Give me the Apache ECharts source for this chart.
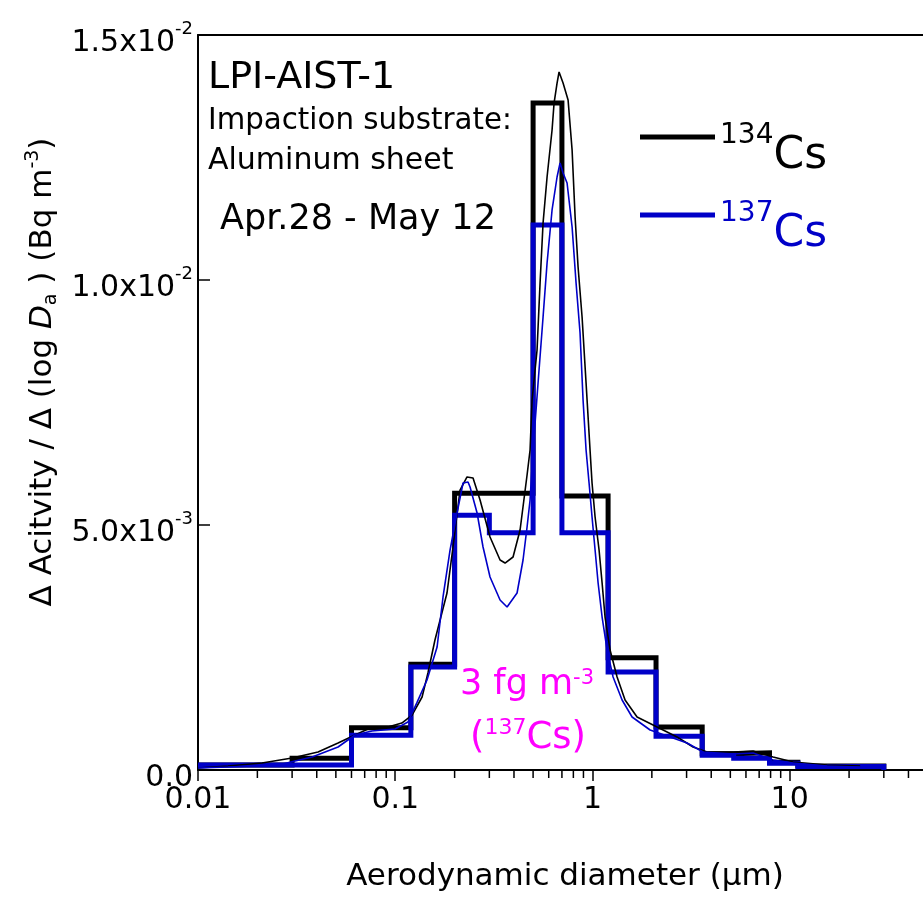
<!DOCTYPE html>
<html><head><meta charset="utf-8">
<script src="https://cdn.jsdelivr.net/npm/echarts@6/dist/echarts.min.js"></script>
<style>html,body{margin:0;padding:0;background:#fff}#c{width:923px;height:897px}</style>
</head><body><div id="c"></div>
<script>
// ---- data ----
const binEdges = [0.01, 0.03, 0.06, 0.12, 0.2, 0.3, 0.5, 0.7, 1.2, 2.1, 3.6, 5.2, 7.9, 11, 30];
const cs134Bins = [1.0e-4, 2.4e-4, 8.6e-4, 2.16e-3, 5.65e-3, 5.65e-3, 1.361e-2, 5.59e-3, 2.29e-3, 8.8e-4, 3.3e-4, 3.5e-4, 1.6e-4, 8e-5];
const cs137Bins = [1.0e-4, 1.0e-4, 7.1e-4, 2.10e-3, 5.20e-3, 4.84e-3, 1.112e-2, 4.84e-3, 2.0e-3, 6.9e-4, 3.0e-4, 2.4e-4, 1.4e-4, 7e-5];
const cs134Fit = [
  [0.01,4.1e-5],[0.0142,8.2e-5],[0.0211,1.43e-4],[0.030,2.45e-4],[0.0406,3.67e-4],[0.0513,5.51e-4],
  [0.0625,7.14e-4],[0.0728,8.37e-4],[0.0919,8.78e-4],[0.108,9.59e-4],[0.1217,1.122e-3],[0.1368,1.49e-3],
  [0.1465,1.98e-3],[0.159,2.653e-3],[0.183,3.612e-3],[0.1963,4.551e-3],[0.2131,5.714e-3],[0.2312,5.98e-3],
  [0.2366,6.02e-3],[0.248,5.959e-3],[0.2692,5.51e-3],[0.3024,4.755e-3],[0.34,4.286e-3],[0.3604,4.224e-3],
  [0.3957,4.347e-3],[0.4295,4.898e-3],[0.466,6.02e-3],[0.4826,6.531e-3],[0.494,7.551e-3],[0.5236,8.571e-3],
  [0.5424,9.939e-3],[0.5617,1.1163e-2],[0.5886,1.2102e-2],[0.6239,1.3061e-2],[0.6387,1.3612e-2],[0.6614,1.402e-2],
  [0.677,1.4245e-2],[0.7094,1.402e-2],[0.7522,1.3673e-2],[0.7883,1.2653e-2],[0.8164,1.1286e-2],[0.8453,1.0265e-2],
  [0.8857,9.245e-3],[0.928,7.898e-3],[0.972,6.531e-3],[0.995,5.857e-3],[1.031,5.163e-3],[1.08,4.49e-3],
  [1.119,3.816e-3],[1.158,3.122e-3],[1.228,2.449e-3],[1.333,1.898e-3],[1.463,1.429e-3],[1.683,1.082e-3],
  [2.126,8.78e-4],[2.685,6.73e-4],[3.237,4.69e-4],[3.812,3.67e-4],[5.164,3.67e-4],[6.524,3.88e-4],
  [8.236,2.65e-4],[10.4,1.63e-4],[15.48,1.02e-4],[22.75,8.2e-5]
];
const cs137Fit = [
  [0.01,4.1e-5],[0.0142,6.1e-5],[0.0255,1.02e-4],[0.0379,2.65e-4],[0.0513,4.69e-4],[0.0625,7.14e-4],
  [0.0762,7.96e-4],[0.0998,8.37e-4],[0.116,9.8e-4],[0.129,1.38e-3],[0.1449,1.837e-3],[0.163,2.51e-3],
  [0.1747,3.531e-3],[0.1897,4.49e-3],[0.2057,5.245e-3],[0.2207,5.857e-3],[0.2339,5.878e-3],[0.2395,5.776e-3],
  [0.26,5.245e-3],[0.2787,4.551e-3],[0.3024,3.939e-3],[0.34,3.469e-3],[0.369,3.327e-3],[0.4146,3.612e-3],
  [0.4446,4.286e-3],[0.466,4.959e-3],[0.4826,5.51e-3],[0.4998,6.531e-3],[0.5298,7.898e-3],[0.5617,9.245e-3],
  [0.5886,1.0347e-2],[0.6239,1.1429e-2],[0.6614,1.2102e-2],[0.685,1.2388e-2],[0.7094,1.2184e-2],[0.7434,1.198e-2],
  [0.7883,1.1082e-2],[0.8257,9.939e-3],[0.865,8.918e-3],[0.896,7.551e-3],[0.928,6.531e-3],[0.961,5.857e-3],
  [0.995,5.163e-3],[1.031,4.49e-3],[1.068,3.816e-3],[1.119,3.122e-3],[1.186,2.449e-3],[1.272,1.898e-3],
  [1.413,1.429e-3],[1.588,1.082e-3],[1.96,8.16e-4],[2.475,6.73e-4],[3.018,5.51e-4],[3.638,3.67e-4],
  [5.164,3.27e-4],[6.524,3.47e-4],[8.236,2.04e-4],[10.4,1.43e-4],[15.48,8.2e-5],[22.75,6.1e-5]
];
const xMinorTicks = [0.02,0.03,0.04,0.05,0.06,0.07,0.08,0.09, 0.2,0.3,0.4,0.5,0.6,0.7,0.8,0.9,
                     2,3,4,5,6,7,8,9, 20,30,40];
const xTickLabels = ['0.01','0.1','1','10'];
const yTickLabels = [['0.0',''],['5.0x10','-3'],['1.0x10','-2'],['1.5x10','-2']];

// ---- helpers ----
function histPoints(edges, vals){
  const out = [];
  for (let i = 0; i < vals.length; i++){ out.push([edges[i], vals[i]]); out.push([edges[i+1], vals[i]]); }
  out.push([edges[edges.length-1], 0]);
  return out;
}
const FONT = 'DejaVu Sans';
const BLUE = '#0000C8';
const MAG = '#FF00FF';
const X_MIN = 0.01, X_MAX = 47.4;

function legendCfg(name, top, color){
  return {
    data: [name], orient: 'vertical', left: 640, top: top, padding: 0,
    itemWidth: 75, itemHeight: 5, icon: 'rect',
    formatter: () => '{s|' + name.slice(0,3) + '}{c|Cs}',
    textStyle: {
      rich: {
        s: {fontFamily: FONT, fontSize: 28, lineHeight: 27, verticalAlign: 'top', padding: [5,0,0,0], color: color},
        c: {fontFamily: FONT, fontSize: 44, lineHeight: 40, verticalAlign: 'top', padding: [18,0,0,0], color: color}
      }
    }
  };
}

const chart = echarts.init(document.getElementById('c'), null, {renderer:'canvas'});
chart.setOption({
  animation: false,
  backgroundColor: '#fff',
  grid: {left: 198, top: 35, bottom: 127, right: 0, containLabel: false},
  xAxis: [{
    type: 'log', logBase: 10, min: X_MIN, max: X_MAX, interval: 1,
    axisLine: {show: true, lineStyle: {color:'#000', width: 2}},
    axisTick: {show: true, inside: false, length: 11, lineStyle: {color:'#000', width: 1.5}},
    axisLabel: {show: true, margin: 15, fontFamily: FONT, fontSize: 30, color: '#000', showMaxLabel: false,
      formatter: (v) => {
        const l = Math.log10(v), k = Math.round(l);
        if (Math.abs(l - k) > 1e-6) return '';
        return xTickLabels[k + 2] || '';
      }},
    splitLine: {show: false}, minorTick: {show: false}
  },{
    type: 'log', logBase: 10, min: X_MIN, max: X_MAX, position: 'top',
    axisLine: {show: true, lineStyle: {color:'#000', width: 2}},
    axisTick: {show: false}, axisLabel: {show: false}, splitLine: {show: false}
  }],
  yAxis: {
    type: 'value', min: 0, max: 0.015, interval: 0.005,
    axisLine: {show: true, lineStyle: {color:'#000', width: 2}},
    axisTick: {show: true, inside: true, length: 12, lineStyle: {color:'#000', width: 1.5}},
    splitLine: {show: false},
    axisLabel: {
      margin: 5, color: '#000',
      formatter: (v) => {
        const i = Math.round(v / 0.005);
        const t = yTickLabels[i];
        return t[1] ? '{m|' + t[0] + '}{e|' + t[1] + '}' : '{m|' + t[0] + '}';
      },
      rich: {
        m: {fontFamily: FONT, fontSize: 30, lineHeight: 30, verticalAlign: 'top', padding: [8,0,0,0], color:'#000'},
        e: {fontFamily: FONT, fontSize: 18, lineHeight: 18, verticalAlign: 'top', color:'#000'}
      }
    }
  },
  legend: [legendCfg('134Cs', 117, '#000'), legendCfg('137Cs', 195, BLUE)],
  graphic: [
    {type:'text', x: 208, y: 78, style: {text: 'LPI-AIST-1', font: '38px "' + FONT + '"', fill: '#000', verticalAlign: 'middle', align: 'left'}},
    {type:'text', x: 208, y: 121, style: {text: 'Impaction substrate:', font: '29.3px "' + FONT + '"', fill: '#000', verticalAlign: 'middle', align: 'left'}},
    {type:'text', x: 208, y: 161, style: {text: 'Aluminum sheet', font: '30px "' + FONT + '"', fill: '#000', verticalAlign: 'middle', align: 'left'}},
    {type:'text', x: 220, y: 220, style: {text: 'Apr.28 - May 12', font: '35px "' + FONT + '"', fill: '#000', verticalAlign: 'middle', align: 'left'}},
    {type:'text', x: 565, y: 877, style: {text: 'Aerodynamic diameter (\u03bcm)', font: '31px "' + FONT + '"', fill: '#000', verticalAlign: 'middle', align: 'center'}},
    {type:'text', x: 39, y: 372, rotation: Math.PI/2, style: {
      text: '{t|\u0394 Acitvity / \u0394 (log }{i|D}{b|a}{t| ) (Bq m}{p|-3}{t|)}',
      align: 'center', verticalAlign: 'middle', fill: '#000',
      rich: {
        t: {fontFamily: FONT, fontSize: 31, lineHeight: 31, verticalAlign: 'top', padding: [4,0,0,0], fill:'#000'},
        i: {fontFamily: FONT, fontSize: 31, fontStyle: 'italic', lineHeight: 31, verticalAlign: 'top', padding: [4,0,0,0], fill:'#000'},
        b: {fontFamily: FONT, fontSize: 19, lineHeight: 19, verticalAlign: 'top', padding: [18,0,0,0], fill:'#000'},
        p: {fontFamily: FONT, fontSize: 19, lineHeight: 19, verticalAlign: 'top', padding: [0,0,0,0], fill:'#000'}
      }
    }},
    {type:'text', x: 527, y: 667, style: {
      text: '{a|3 fg m}{b|-3}', align: 'center', verticalAlign: 'top', fill: MAG,
      rich: {
        a: {fontFamily: FONT, fontSize: 35, lineHeight: 35, verticalAlign: 'top', fill: MAG},
        b: {fontFamily: FONT, fontSize: 21, lineHeight: 21, verticalAlign: 'top', padding: [1,0,0,0], fill: MAG}
      }
    }},
    {type:'text', x: 528, y: 717, style: {
      text: '{c|(}{d|137}{c|Cs)}', align: 'center', verticalAlign: 'top', fill: MAG,
      rich: {
        c: {fontFamily: FONT, fontSize: 37, lineHeight: 37, verticalAlign: 'top', padding: [3,0,0,0], fill: MAG},
        d: {fontFamily: FONT, fontSize: 22, lineHeight: 22, verticalAlign: 'top', fill: MAG}
      }
    }}
  ],
  series: [
    {name: '134Cs', type: 'line', color: '#000', data: histPoints(binEdges, cs134Bins), showSymbol: false, symbol: 'none',
     lineStyle: {color: '#000', width: 5, join: 'miter', cap: 'butt'}, z: 2},
    {name: '137Cs', type: 'line', color: BLUE, data: histPoints(binEdges, cs137Bins), showSymbol: false, symbol: 'none',
     lineStyle: {color: BLUE, width: 5, join: 'miter', cap: 'butt'}, z: 3},
    {name: '134Cs fit', type: 'line', data: cs134Fit, showSymbol: false, symbol: 'none',
     lineStyle: {color: '#000', width: 1.6}, z: 4},
    {name: '137Cs fit', type: 'line', data: cs137Fit, showSymbol: false, symbol: 'none',
     lineStyle: {color: BLUE, width: 1.6}, z: 5},
    {name: 'minor ticks', type: 'custom', clip: false, silent: true, z: 6,
     data: xMinorTicks.map(v => [v, 0]),
     renderItem: (params, api) => {
       const p = api.coord([api.value(0), 0]);
       return {type: 'line', shape: {x1: p[0], y1: p[1], x2: p[0], y2: p[1] + 8}, style: {stroke: '#000', lineWidth: 1.5}};
     }}
  ]
});
</script></body></html>
